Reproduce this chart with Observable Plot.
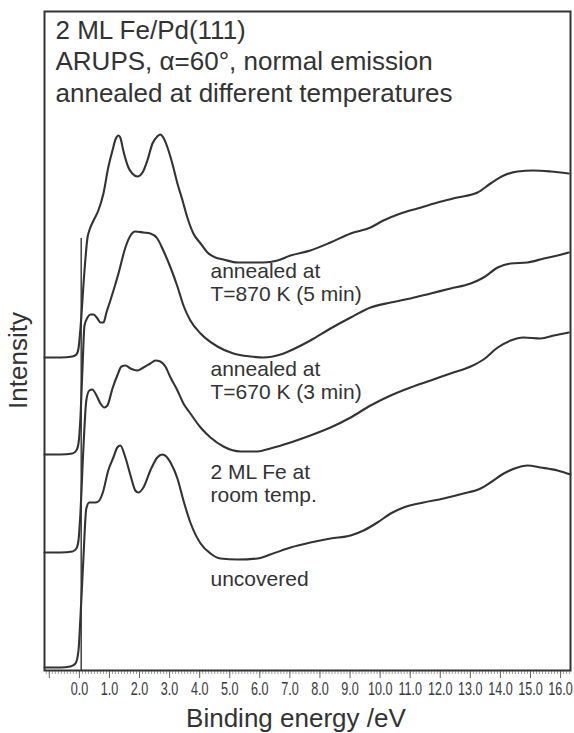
<!DOCTYPE html>
<html><head><meta charset="utf-8">
<script src="https://cdn.jsdelivr.net/npm/d3@7"></script>
<script src="https://cdn.jsdelivr.net/npm/@observablehq/plot@0.6"></script>
<style>body{margin:0;background:#fff}</style>
</head><body><div id="chart"></div>
<script>
// ---- data (binding energy in eV, intensity in arbitrary units, curves offset as in the figure)
const seriesNames = ["annealed 870 K", "annealed 670 K", "2 ML Fe RT", "uncovered"];

const energy870 = [-1.16,-0.63,-0.23,-0.10,-0.03,0.03,0.17,0.27,0.33,0.47,0.63,0.80,0.96,1.10,1.20,1.30,1.36,1.46,1.63,1.76,1.93,2.10,2.26,2.43,2.59,2.69,2.79,2.93,3.09,3.26,3.43,3.59,3.79,4.03,4.26,4.52,4.79,5.26,5.69,6.12,6.59,7.02,7.68,8.35,9.02,9.68,10.11,10.68,11.24,11.91,12.57,13.24,13.67,14.11,14.57,15.10,15.67,16.27];
const intensity870 = [313,313,314,316,322,340,400,433,440,450,460,477,503,520,531,535,533,520,503,497,494,498,510,527,534,536,533,523,507,487,470,453,437,427,418,413,411,408,408,408,410,415,420,428,437,443,450,457,462,468,473,478,487,495,499,500,499,497];

const energy670 = [-1.16,-0.63,-0.23,-0.10,-0.03,0.03,0.10,0.17,0.27,0.37,0.47,0.60,0.70,0.80,0.90,1.03,1.30,1.53,1.70,1.86,2.13,2.36,2.59,2.79,3.03,3.26,3.46,3.69,4.03,4.59,5.12,5.69,6.12,6.69,7.02,7.68,8.35,9.02,9.68,10.35,11.01,11.68,12.34,13.01,13.44,13.91,14.34,14.90,15.44,15.90,16.27];
const intensity670 = [216,216,217,220,227,250,300,345,353,356,356,352,348,348,358,370,397,423,435,439,438,437,432,420,403,384,365,350,337,324,317,314,313,316,320,330,342,353,363,368,372,377,382,387,393,403,407,408,412,415,418];

const energyRT = [-1.16,-0.63,-0.23,-0.10,-0.03,0.03,0.13,0.23,0.33,0.43,0.57,0.70,0.83,0.93,1.10,1.26,1.40,1.53,1.70,1.93,2.13,2.36,2.53,2.69,2.86,3.03,3.26,3.46,3.69,4.03,4.36,4.79,5.36,5.92,6.35,7.02,7.68,8.35,9.02,9.68,10.35,11.01,11.68,12.34,13.01,13.44,13.91,14.34,14.77,15.34,15.77,16.27];
const intensityRT = [118,118,119,122,130,155,220,270,280,281,275,267,263,265,282,295,304,305,302,300,303,307,310,309,304,293,280,267,257,243,233,224,219,219,222,228,235,243,253,265,275,283,290,297,304,311,323,330,333,332,335,338];

const energyClean = [-1.16,-0.63,-0.30,-0.13,-0.03,0.03,0.13,0.23,0.33,0.53,0.63,0.77,0.96,1.13,1.26,1.36,1.53,1.70,1.86,1.96,2.13,2.36,2.59,2.76,2.89,3.03,3.26,3.46,3.69,4.03,4.36,4.69,5.26,5.92,6.35,7.02,7.68,8.35,9.02,9.45,9.91,10.35,10.78,11.44,12.11,12.77,13.34,13.67,14.11,14.57,14.90,15.34,15.90,16.33];
const intensityClean = [3,3,4,7,20,50,110,162,168,168,169,177,200,213,223,225,213,195,180,178,183,200,213,216,214,208,192,170,148,127,117,112,111,112,116,123,128,132,135,140,148,157,163,168,172,177,182,188,197,203,205,203,200,196];

// Fermi-level marker
const fermiEnergy = 0.06;
const fermiMarkerTop = 432;

// axis ticks and labels
const majorTicks = d3.range(-1, 17);
const tickLabels = ["", "0.0","1.0","2.0","3.0","4.0","5.0","6.0","7.0","8.0","9.0","10.0","11.0","12.0","13.0","14.0","15.0","16.0"];
const minorTicks = d3.range(-11, 164).map(i => i / 10);

// texts
const titleText = "2 ML Fe/Pd(111)\nARUPS, \u03b1=60\u00b0, normal emission\nannealed at different temperatures";
const xTitle = "Binding energy /eV";
const yTitle = "Intensity";
const curveLabels = ["annealed at\nT=870 K (5 min)", "annealed at\nT=670 K (3 min)", "2 ML Fe at\nroom temp.", "uncovered"];
const curveLabelEnergy = [4.36, 4.36, 4.36, 4.36];
const curveLabelIntensity = [388, 290, 187, 92];
// axis-title anchor points (eV, intensity)
const xTitleEnergy = 7.2;
const yTitleEnergy = -2.03, yTitleIntensity = 310;

// ---- build
const series = [[energy870, intensity870], [energy670, intensity670], [energyRT, intensityRT], [energyClean, intensityClean]];
const rows = series.flatMap(([E, I], k) => E.map((e, i) => ({E: e, I: I[i], series: seriesNames[k]})));
const labelRows = curveLabels.map((t, i) => ({t, E: curveLabelEnergy[i], I: curveLabelIntensity[i]}));

const ink = "#333";
const sans = "'Liberation Sans', Arial, Helvetica, sans-serif";

const chart = Plot.plot({
  width: 574, height: 733,
  marginLeft: 44, marginRight: 4, marginTop: 11, marginBottom: 63,
  style: {fontFamily: sans, color: ink, background: "#fff", overflow: "visible"},
  x: {domain: [-1.16, 16.33], label: null},
  y: {domain: [0, 659], axis: null},
  marks: [
    Plot.axisX(minorTicks, {tickSize: 4, tickFormat: () => "", stroke: "#888", strokeWidth: 0.8, label: null}),
    Plot.axisX(majorTicks, {tickSize: 8, tickPadding: 4, stroke: "#666", tickFormat: d => tickLabels[majorTicks.indexOf(d)], fontSize: 17.5, fill: "#3a3a3a", label: null}),
    Plot.frame({stroke: ink, strokeWidth: 2}),
    Plot.ruleX([fermiEnergy], {y1: 0, y2: fermiMarkerTop, stroke: ink, strokeWidth: 1.4}),
    Plot.line(rows, {x: "E", y: "I", z: "series", stroke: ink, strokeWidth: 2.1, curve: "monotone-x"}),
    Plot.text(labelRows, {x: "E", y: "I", text: "t", textAnchor: "start", lineAnchor: "middle", lineHeight: 1.1, fontSize: 21, fill: ink}),
    Plot.text([titleText], {frameAnchor: "top-left", dx: 11, dy: 5, textAnchor: "start", lineAnchor: "top", lineHeight: 1.21, fontSize: 26, fill: ink}),
    Plot.text([xTitle], {x: xTitleEnergy, frameAnchor: "bottom", dy: 48, fontSize: 26, fill: ink, lineAnchor: "middle"}),
    Plot.text([yTitle], {x: yTitleEnergy, y: yTitleIntensity, rotate: -90, fontSize: 26, fill: ink, lineAnchor: "middle", clip: false})
  ]
});
document.getElementById("chart").appendChild(chart);
// condensed tick labels, as in the original figure
chart.querySelectorAll('g[aria-label="x-axis tick label"] text').forEach(t => {
  const tr = t.getAttribute("transform") || "";
  t.setAttribute("transform", tr + " scale(0.72,1)");
});
</script>
</body></html>
